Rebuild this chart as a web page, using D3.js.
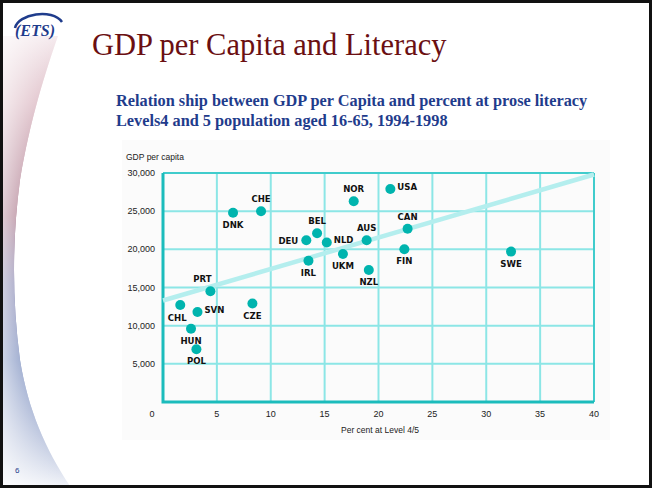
<!DOCTYPE html>
<html>
<head>
<meta charset="utf-8">
<script src="https://cdn.jsdelivr.net/npm/d3@7"></script>
<style>
  body { margin: 0; background: #fff; }
  svg { display: block; }
</style>
</head>
<body>
<script>
var W = 652, H = 488;

// data
var countries = ['DNK','CHE','BEL','DEU','NLD','UKM','IRL','PRT','NOR','USA',
                 'CAN','AUS','FIN','NZL','SWE','CHL','SVN','CZE','HUN','POL'];
var literacy  = [6.5, 9.1, 14.3, 13.3, 15.2, 16.7, 13.5, 4.4, 17.7, 21.1,
                 22.7, 18.9, 22.4, 19.1, 32.3, 1.6, 3.2, 8.3, 2.6, 3.1];
var gdp       = [24800, 25000, 22100, 21200, 20900, 19400, 18500, 14500, 26300, 27900,
                 22700, 21200, 20000, 17300, 19700, 12700, 11800, 12900, 9600, 6900];
var xTicks = [0, 5, 10, 15, 20, 25, 30, 35, 40];
var yTicks = [5000, 10000, 15000, 20000, 25000, 30000];
var trend  = [[0, 13300], [40, 29800]];

// where each label sits relative to its dot
var labelSide = {DNK:'b', CHE:'t', BEL:'t', DEU:'l', NLD:'r', UKM:'b', IRL:'b', PRT:'tl',
                 NOR:'t', USA:'r', CAN:'t', AUS:'t', FIN:'b', NZL:'b', SWE:'b',
                 CHL:'bl', SVN:'r', CZE:'b', HUN:'b', POL:'b'};

var svg = d3.select('body').append('svg')
    .attr('width', W).attr('height', H);

// slide background + swoosh
var defs = svg.append('defs');
var g1 = defs.append('linearGradient').attr('id', 'swoosh')
    .attr('x1', 0).attr('y1', 0).attr('x2', 0).attr('y2', 1);
g1.append('stop').attr('offset', 0).attr('stop-color', '#f4e8ec');
g1.append('stop').attr('offset', 0.15).attr('stop-color', '#d4aab6');
g1.append('stop').attr('offset', 0.4).attr('stop-color', '#7a2a48');
g1.append('stop').attr('offset', 0.55).attr('stop-color', '#3a3a80');
g1.append('stop').attr('offset', 0.72).attr('stop-color', '#34529c');
g1.append('stop').attr('offset', 1).attr('stop-color', '#f0f2f8');
var g2 = defs.append('linearGradient').attr('id', 'fade')
    .attr('x1', 0).attr('y1', 0).attr('x2', 1).attr('y2', 0);
g2.append('stop').attr('offset', 0).attr('stop-color', '#fff').attr('stop-opacity', 0.75);
g2.append('stop').attr('offset', 1).attr('stop-color', '#fff').attr('stop-opacity', 0);

svg.append('rect').attr('width', W).attr('height', H).attr('fill', '#fff');
var swooshPath = 'M3,36 L58,36 C46,70 30,120 20,180 C12,240 12,300 20,360 C28,410 46,450 70,486 L3,486 Z';
svg.append('path').attr('d', swooshPath).attr('fill', 'url(#swoosh)');
svg.append('path').attr('d', swooshPath).attr('fill', 'url(#fade)');

// ETS logo
var logo = svg.append('g').attr('transform', 'translate(12,10)');
logo.append('path').attr('d', 'M3,18 C6,4 40,-2 50,12')
    .attr('fill', 'none').attr('stroke', '#1f3c8c').attr('stroke-width', 2.5);
logo.append('text').attr('x', 3).attr('y', 26)
    .attr('font-family', 'Liberation Serif').attr('font-style', 'italic')
    .attr('font-weight', 'bold').attr('font-size', 16).attr('fill', '#1f3c8c')
    .text('(ETS)');

svg.append('text').attr('x', 92).attr('y', 55)
    .attr('font-family', 'Liberation Serif').attr('font-size', 30.5)
    .attr('fill', '#6b0f12').text('GDP per Capita and Literacy');

var sub = svg.append('text').attr('font-family', 'Liberation Serif')
    .attr('font-weight', 'bold').attr('font-size', 16.3).attr('fill', '#1f3c8c');
sub.append('tspan').attr('x', 116).attr('y', 106)
    .text('Relation ship between GDP per Capita and percent at prose literacy');
sub.append('tspan').attr('x', 116).attr('y', 126)
    .text('Levels4 and 5 population aged 16-65, 1994-1998');

svg.append('text').attr('x', 15).attr('y', 473)
    .attr('font-family', 'Liberation Sans').attr('font-size', 8)
    .attr('fill', '#1f3c8c').text('6');

// chart panel
svg.append('rect').attr('x', 122).attr('y', 140).attr('width', 488).attr('height', 300)
    .attr('fill', '#fbfbfb');

var x = d3.scaleLinear().domain([0, 40]).range([163, 594]);
var y = d3.scaleLinear().domain([0, 30000]).range([402, 173]);

var gridCol = '#8ce6e6', axisCol = '#1bbcbc';
var grid = svg.append('g');
grid.selectAll('line.v').data(xTicks.slice(1)).enter().append('line')
    .attr('x1', function(d){ return x(d); }).attr('x2', function(d){ return x(d); })
    .attr('y1', y(30000)).attr('y2', y(0))
    .attr('stroke', gridCol).attr('stroke-width', 2);
grid.selectAll('line.h').data(yTicks).enter().append('line')
    .attr('x1', x(0)).attr('x2', x(40))
    .attr('y1', function(d){ return y(d); }).attr('y2', function(d){ return y(d); })
    .attr('stroke', gridCol).attr('stroke-width', 2);
// frame
svg.append('line').attr('x1', x(0)).attr('x2', x(40)).attr('y1', y(30000)).attr('y2', y(30000))
    .attr('stroke', '#40cccc').attr('stroke-width', 2);
svg.append('line').attr('x1', x(40)).attr('x2', x(40)).attr('y1', y(30000)).attr('y2', y(0))
    .attr('stroke', '#40cccc').attr('stroke-width', 2);
svg.append('path')
    .attr('d', 'M' + x(0) + ',' + y(30000) + 'V' + y(0) + 'H' + x(40))
    .attr('fill', 'none').attr('stroke', axisCol).attr('stroke-width', 3);

// trend line
svg.append('line')
    .attr('x1', x(trend[0][0])).attr('y1', y(trend[0][1]))
    .attr('x2', x(trend[1][0])).attr('y2', y(trend[1][1]))
    .attr('stroke', '#b4eeee').attr('stroke-width', 4.5);

// axes text
var tickFont = 'Liberation Sans';
svg.selectAll('text.yt').data(yTicks).enter().append('text')
    .attr('x', 155).attr('y', function(d){ return y(d) + 3; })
    .attr('text-anchor', 'end').attr('font-family', tickFont).attr('font-size', 9)
    .attr('fill', '#222').text(d3.format(','));
svg.selectAll('text.xt').data(xTicks).enter().append('text')
    .attr('x', function(d){ return d === 0 ? x(d) - 11 : x(d); }).attr('y', 417)
    .attr('text-anchor', 'middle').attr('font-family', tickFont).attr('font-size', 9)
    .attr('fill', '#222').text(function(d){ return d; });
svg.append('text').attr('x', 126).attr('y', 160)
    .attr('font-family', tickFont).attr('font-size', 8.5).attr('fill', '#222')
    .text('GDP per capita');
svg.append('text').attr('x', 341).attr('y', 433)
    .attr('font-family', tickFont).attr('font-size', 8.5).attr('fill', '#222')
    .text('Per cent at Level 4/5');

// points
var pts = countries.map(function(c, i){ return {c: c, lx: literacy[i], gy: gdp[i]}; });
svg.selectAll('circle.pt').data(pts).enter().append('circle')
    .attr('cx', function(d){ return x(d.lx); }).attr('cy', function(d){ return y(d.gy); })
    .attr('r', 5).attr('fill', '#00b4ae');

var off = {t: [0, -9, 'middle'], b: [0, 15, 'middle'], l: [-8, 4, 'end'], r: [7, 1, 'start'],
           tl: [-8, -9, 'middle'], bl: [-3, 16, 'middle']};
svg.selectAll('text.lab').data(pts).enter().append('text')
    .attr('x', function(d){ return x(d.lx) + off[labelSide[d.c]][0]; })
    .attr('y', function(d){ return y(d.gy) + off[labelSide[d.c]][1]; })
    .attr('text-anchor', function(d){ return off[labelSide[d.c]][2]; })
    .attr('font-family', 'DejaVu Sans Condensed, DejaVu Sans').attr('font-weight', 'bold')
    .attr('font-size', 9.5).attr('fill', '#111')
    .text(function(d){ return d.c; });

// slide border
svg.append('rect').attr('x', 1.5).attr('y', 1.5).attr('width', W - 3).attr('height', H - 3)
    .attr('fill', 'none').attr('stroke', '#111').attr('stroke-width', 3);
</script>
</body>
</html>
